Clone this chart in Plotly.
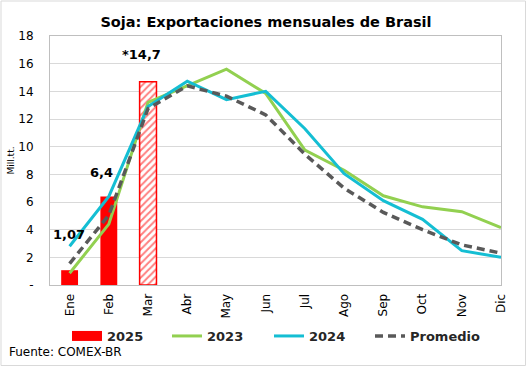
import plotly.graph_objects as go

months = ["Ene", "Feb", "Mar", "Abr", "May", "Jun", "Jul", "Ago", "Sep", "Oct", "Nov", "Dic"]
y2025 = [1.07, 6.4, 14.7]
lbl2025 = ["1,07", "6,4", "*14,7"]
y2023 = [0.85, 4.4, 13.2, 14.4, 15.6, 13.85, 9.75, 8.3, 6.45, 5.65, 5.3, 4.15]
y2024 = [2.8, 6.4, 12.9, 14.73, 13.4, 14.0, 11.3, 8.05, 6.1, 4.75, 2.48, 2.0]
yprom = [1.55, 5.05, 12.75, 14.4, 13.65, 12.3, 9.45, 7.0, 5.25, 4.0, 2.9, 2.3]
yticks = [0, 2, 4, 6, 8, 10, 12, 14, 16, 18]
yticklabels = ["-", "2", "4", "6", "8", "10", "12", "14", "16", "18"]

FONT = "DejaVu Sans"
RED = "#FF0000"

L, R, T, B = 50, 26, 36, 82
W, H = 527, 367
pw, ph = W - L - R, H - T - B

fig = go.Figure()
# solid bars (Ene, Feb)
fig.add_trace(go.Bar(
    x=months[:2], y=y2025[:2], name="2025", width=0.43, showlegend=False,
    marker=dict(color=RED, line=dict(width=0)),
))
# hatched bar (Mar, preliminary)
fig.add_trace(go.Bar(
    x=months[2:3], y=y2025[2:3], name="2025", width=0.43, showlegend=False,
    marker=dict(color="white", line=dict(color=RED, width=1.5),
                pattern=dict(shape="/", fgcolor=RED, bgcolor="white",
                             size=5, solidity=0.4, fillmode="overlay")),
))
# legend entries
fig.add_trace(go.Scatter(x=[None], y=[None], name="2025", mode="lines",
                         line=dict(color=RED, width=12), legend="legend"))
fig.add_trace(go.Scatter(x=months, y=y2023, name="2023", mode="lines",
                         line=dict(color="#92D050", width=3), legend="legend2"))
fig.add_trace(go.Scatter(x=months, y=y2024, name="2024", mode="lines",
                         line=dict(color="#14BED3", width=3), legend="legend3"))
fig.add_trace(go.Scatter(x=months, y=yprom, name="Promedio", mode="lines",
                         line=dict(color="#595959", width=3.5, dash="8px,5px"),
                         legend="legend4"))

yshifts = [26, 14, 18]
xshifts = [-1, -7, -7]
for m, v, t, s, xs in zip(months[:3], y2025, lbl2025, yshifts, xshifts):
    fig.add_annotation(x=m, y=v, text="<b>%s</b>" % t, showarrow=False,
                       yshift=s, yanchor="bottom", xshift=xs,
                       font=dict(family=FONT, size=13, color="black"))

fig.add_shape(type="rect", xref="paper", yref="paper",
              x0=-(L - 1) / pw, x1=1 + (R - 1.5) / pw,
              y0=-(B - 1.5) / ph, y1=1 + (T - 1) / ph,
              line=dict(color="#D9D9D9", width=1), layer="below")

fig.add_annotation(xref="paper", yref="paper", x=-(L - 7) / pw, y=-(352 - T - ph) / ph,
                   xanchor="left", yanchor="middle", showarrow=False,
                   text="Fuente: COMEX-BR", font=dict(family=FONT, size=12, color="black"))

legend_y = -(336 - T - ph) / ph
legend_common = dict(orientation="h", y=legend_y, xanchor="left", yanchor="middle",
                     font=dict(family=FONT, size=13, color="#262626", weight="bold"),
                     itemwidth=30, bgcolor="rgba(0,0,0,0)")
legend_px = [67, 167, 269, 370]

fig.update_layout(
    width=W, height=H,
    margin=dict(l=L, r=R, t=T, b=B, autoexpand=False),
    paper_bgcolor="white", plot_bgcolor="white",
    barmode="overlay",
    title=dict(text="Soja: Exportaciones mensuales de Brasil", x=266 / W, xref="container",
               xanchor="center", y=1 - 22 / H, yref="container", yanchor="middle",
               automargin=False,
               font=dict(family=FONT, size=14.5, color="black", weight="bold")),
    font=dict(family=FONT, color="black"),
    showlegend=True,
    legend=dict(x=(legend_px[0] - L) / pw, **legend_common),
    legend2=dict(x=(legend_px[1] - L) / pw, **legend_common),
    legend3=dict(x=(legend_px[2] - L) / pw, **legend_common),
    legend4=dict(x=(legend_px[3] - L) / pw, **legend_common),
)
fig.update_xaxes(tickangle=-90, tickfont=dict(family=FONT, size=12, color="black"),
                 showline=True, linecolor="#BFBFBF", linewidth=1, mirror=True,
                 ticks="", showgrid=False, automargin=False, ticklabelstandoff=3)
fig.update_yaxes(range=[0, 18], tickvals=yticks, ticktext=yticklabels,
                 tickfont=dict(family=FONT, size=12, color="black"),
                 showgrid=True, gridcolor="#D9D9D9", gridwidth=1,
                 showline=True, linecolor="#BFBFBF", linewidth=1, mirror=True,
                 zeroline=False, ticks="", automargin=False, ticklabelstandoff=13,
                 title=dict(text="Mill.tt.", font=dict(family=FONT, size=9, color="black"),
                            standoff=2))

fig.write_html("out.html", config={"displayModeBar": False},
               post_script="document.body.style.margin='0';document.body.style.overflow='hidden';")
